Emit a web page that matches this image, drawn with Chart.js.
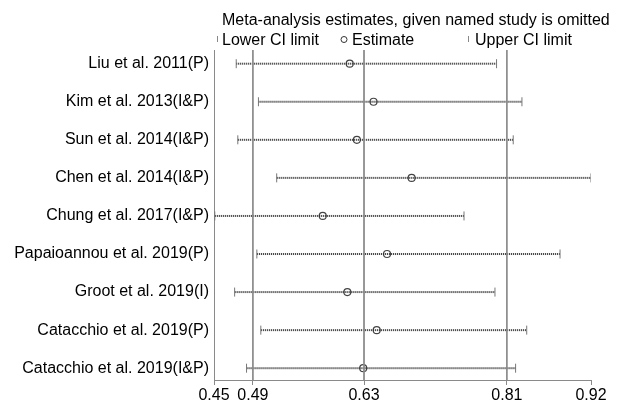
<!DOCTYPE html>
<html>
<head>
<meta charset="utf-8">
<script src="https://cdn.jsdelivr.net/npm/chart.js@4.4.1/dist/chart.umd.min.js"></script>
<style>
  html, body { margin: 0; padding: 0; background: #fff; }
  #wrap { width: 633px; height: 407px; }
</style>
</head>
<body>
<div id="wrap"><canvas id="metaninf"></canvas></div>
<script>
// studies omitted one at a time
const studies = [
  'Liu et al. 2011(P)',
  'Kim et al. 2013(I&P)',
  'Sun et al. 2014(I&P)',
  'Chen et al. 2014(I&P)',
  'Chung et al. 2017(I&P)',
  'Papaioannou et al. 2019(P)',
  'Groot et al. 2019(I)',
  'Catacchio et al. 2019(P)',
  'Catacchio et al. 2019(I&P)'
];
const lowerCI  = [0.469, 0.497, 0.471, 0.520, 0.442, 0.495, 0.467, 0.500, 0.482];
const estimate = [0.612, 0.642, 0.621, 0.690, 0.578, 0.659, 0.609, 0.646, 0.629];
const upperCI  = [0.797, 0.829, 0.818, 0.916, 0.756, 0.877, 0.795, 0.835, 0.821];

// pooled estimate with all studies: lower, estimate, upper
const overall = [0.49, 0.63, 0.81];

const xTickValues = [0.441, 0.49, 0.63, 0.81, 0.916];
const xTickLabels = ['0.45', '0.49', '0.63', '0.81', '0.92'];

const FONT = 'Liberation Sans, Arial, Helvetica, sans-serif';
const yTop = -0.36, yBottom = 8.31;

const datasets = [];

// vertical lines for the overall result
overall.forEach(v => {
  datasets.push({
    type: 'line',
    data: [{ x: v, y: yTop }, { x: v, y: yBottom }],
    borderColor: '#8a8a8a',
    borderWidth: 1,
    pointRadius: 0
  });
});

// dotted CI line for every omitted study, with end caps
studies.forEach((s, i) => {
  datasets.push({
    type: 'line',
    data: [{ x: lowerCI[i], y: i }, { x: upperCI[i], y: i }],
    borderColor: '#2a2a2a',
    borderWidth: 2,
    borderDash: [1, 1],
    pointStyle: 'line',
    rotation: 90,
    pointRadius: 4.5,
    pointBorderColor: '#777',
    pointBorderWidth: 1
  });
});

// estimates
datasets.push({
  type: 'scatter',
  data: estimate.map((v, i) => ({ x: v, y: i })),
  pointStyle: 'circle',
  pointRadius: 3.5,
  pointBackgroundColor: 'rgba(255,255,255,0.6)',
  pointBorderColor: '#444',
  pointBorderWidth: 1.2
});

const headerPlugin = {
  id: 'header',
  afterDraw(chart) {
    const ctx = chart.ctx;
    ctx.save();
    ctx.fillStyle = '#000';
    ctx.font = '16px ' + FONT;
    ctx.textBaseline = 'alphabetic';
    ctx.textAlign = 'left';
    ctx.fillText('Meta-analysis estimates, given named study is omitted', 222, 25);

    // legend row
    ctx.fillText('Lower CI limit', 222, 45);
    ctx.fillText('Estimate', 352, 45);
    ctx.fillText('Upper CI limit', 475, 45);
    ctx.strokeStyle = '#888';
    ctx.lineWidth = 1;
    ctx.beginPath();
    ctx.moveTo(217.5, 36); ctx.lineTo(217.5, 42);
    ctx.moveTo(468.5, 36); ctx.lineTo(468.5, 42);
    ctx.stroke();
    ctx.strokeStyle = '#333';
    ctx.beginPath();
    ctx.arc(344, 39.5, 3, 0, Math.PI * 2);
    ctx.stroke();
    ctx.restore();
  }
};

new Chart(document.getElementById('metaninf'), {
  data: { datasets },
  options: {
    responsive: true,
    maintainAspectRatio: false,
    animation: false,
    layout: { padding: { top: 50, right: 42, left: 0, bottom: 0 } },
    plugins: {
      legend: { display: false },
      tooltip: { enabled: false }
    },
    scales: {
      x: {
        type: 'linear',
        min: xTickValues[0],
        max: xTickValues[xTickValues.length - 1],
        afterBuildTicks: scale => {
          scale.ticks = xTickValues.map(v => ({ value: v }));
        },
        afterFit: scale => { scale.height = 27; },
        ticks: {
          callback: (v, idx) => xTickLabels[idx],
          color: '#000',
          font: { family: FONT, size: 16 },
          padding: 1,
          maxRotation: 0,
          autoSkip: false
        },
        grid: {
          drawOnChartArea: false,
          drawTicks: true,
          tickLength: 5,
          color: '#8a8a8a'
        },
        border: { display: true, color: '#8a8a8a', width: 1 }
      },
      y: {
        type: 'linear',
        reverse: true,
        min: yTop,
        max: yBottom,
        afterBuildTicks: scale => {
          scale.ticks = studies.map((s, i) => ({ value: i }));
        },
        afterFit: scale => {
          scale.width = 214;
          scale.paddingTop = 0;
          scale.paddingBottom = 0;
        },
        ticks: {
          callback: (v, idx) => studies[idx],
          color: '#000',
          font: { family: FONT, size: 16 },
          padding: 5,
          autoSkip: false
        },
        grid: { display: false, drawTicks: false },
        border: { display: true, color: '#8a8a8a', width: 1 }
      }
    }
  },
  plugins: [headerPlugin]
});
</script>
</body>
</html>
